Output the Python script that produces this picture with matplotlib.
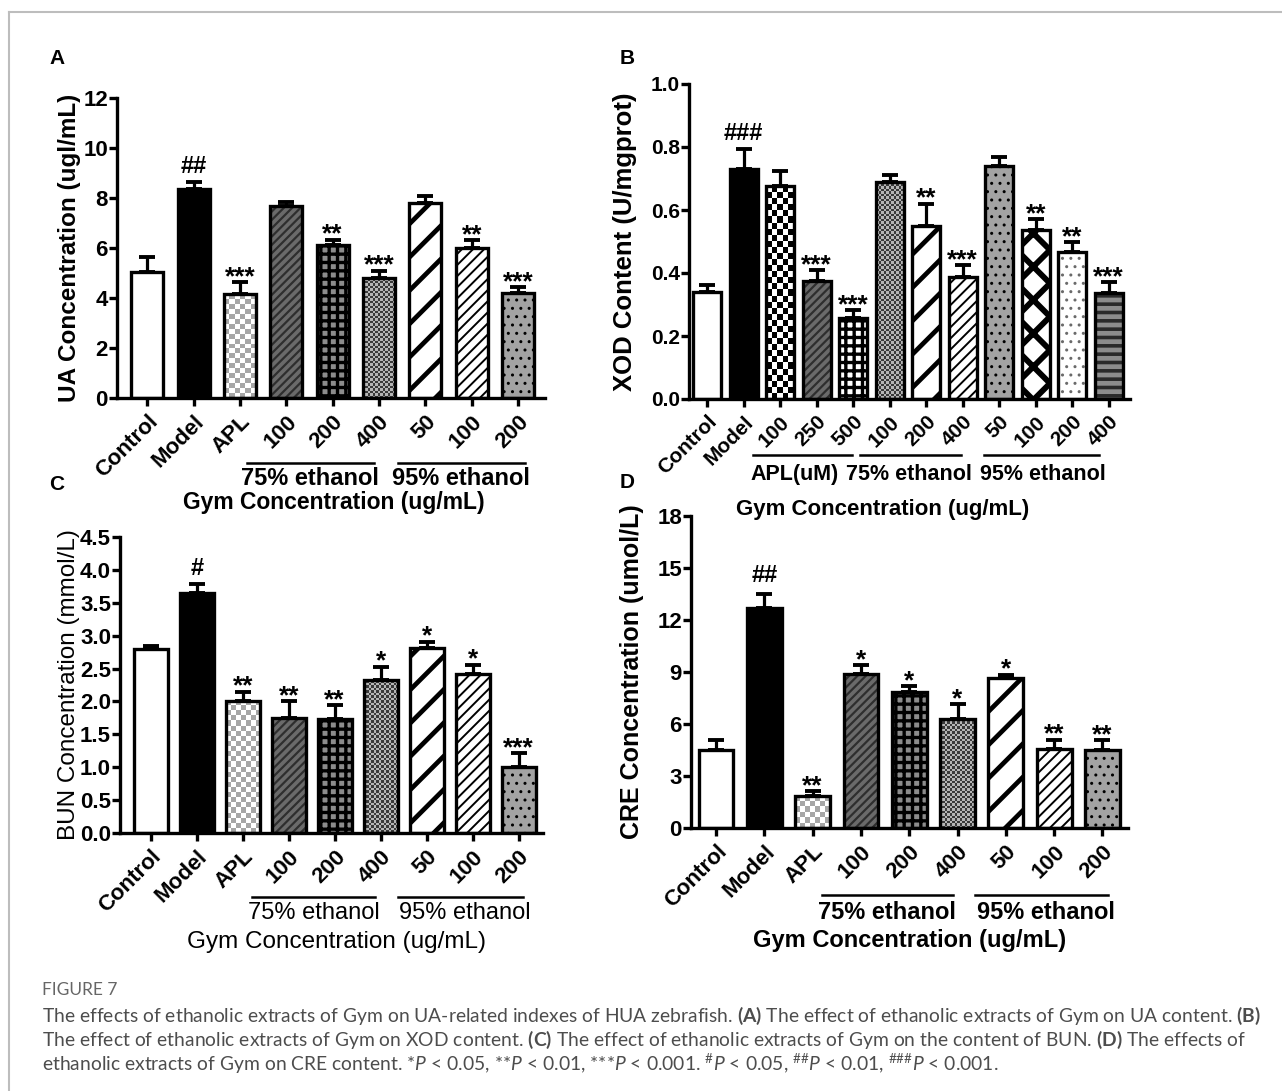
import numpy as np
import matplotlib
matplotlib.use("Agg")
import matplotlib.pyplot as plt
from matplotlib.lines import Line2D
from matplotlib.colors import ListedColormap

plt.rcParams['font.family'] = ['Liberation Sans', 'DejaVu Sans']
plt.rcParams['mathtext.fontset'] = 'custom'
plt.rcParams['mathtext.rm'] = 'Lato'
plt.rcParams['mathtext.it'] = 'Lato:italic'
plt.rcParams['mathtext.bf'] = 'Lato:bold'

# ---- data ----
labels_9 = ["Control", "Model", "APL", "100", "200", "400", "50", "100", "200"]
labels_b = ["Control", "Model", "100", "250", "500", "100", "200", "400", "50", "100", "200", "400"]

ua_mean = [5.05, 8.35, 4.15, 7.68, 6.12, 4.8, 7.8, 6.02, 4.2]
ua_err = [0.6, 0.3, 0.5, 0.15, 0.22, 0.3, 0.3, 0.3, 0.25]
ua_sig = ["", "##", "***", "", "**", "***", "", "**", "***"]

xod_mean = [0.34, 0.73, 0.675, 0.375, 0.258, 0.69, 0.548, 0.386, 0.74, 0.537, 0.466, 0.336]
xod_err = [0.022, 0.065, 0.05, 0.035, 0.025, 0.02, 0.072, 0.038, 0.028, 0.035, 0.033, 0.035]
xod_sig = ["", "###", "", "***", "***", "", "**", "***", "", "**", "**", "***"]

bun_mean = [2.79, 3.65, 2.01, 1.75, 1.74, 2.32, 2.81, 2.41, 1.0]
bun_err = [0.06, 0.13, 0.14, 0.25, 0.2, 0.21, 0.1, 0.15, 0.22]
bun_sig = ["", "#", "**", "**", "**", "*", "*", "*", "***"]

cre_mean = [4.5, 12.7, 1.85, 8.9, 7.85, 6.28, 8.63, 4.55, 4.5]
cre_err = [0.55, 0.8, 0.3, 0.48, 0.35, 0.87, 0.22, 0.55, 0.55]
cre_sig = ["", "##", "**", "*", "*", "*", "*", "**", "**"]

# ---- fill styles ----
PATTERNS = {
    "white": dict(face="white"),
    "black": dict(face="black"),
    "checker_light": dict(face="white", checker=("white", "#a6a6a6", 5)),
    "checker_bw": dict(face="white", checker=("white", "black", 6)),
    "checker_fine": dict(face="#999999", checker=("#b5b5b5", "#3a3a3a", 2.5)),
    "dash_dark": dict(face="#6a6a6a", hatch="////", hc="#2e2e2e", hlw=1.6),
    "grid_gray": dict(face="#8c8c8c", hatch="++", hc="black", hlw=2.4),
    "grid_white": dict(face="white", hatch="++", hc="black", hlw=2.4),
    "stripe_wide": dict(face="white", hatch="/", hc="black", hlw=3.4),
    "stripe_fine": dict(face="white", hatch="///", hc="black", hlw=1.4),
    "dots_gray": dict(face="#a3a3a3", hatch="..", hc="black", hlw=1.0),
    "dots_light": dict(face="white", hatch="..", hc="#6a6a6a", hlw=1.0),
    "xhatch": dict(face="white", hatch="x", hc="black", hlw=4.2),
    "hstripe": dict(face="#8c8c8c", hatch="--", hc="#2a2a2a", hlw=2.6),
}

styles_9 = ["white", "black", "checker_light", "dash_dark", "grid_gray",
            "checker_fine", "stripe_wide", "stripe_fine", "dots_gray"]
styles_b = ["white", "black", "checker_bw", "dash_dark", "grid_white",
            "checker_fine", "stripe_wide", "stripe_fine", "dots_gray",
            "xhatch", "dots_light", "hstripe"]

W, H = 1282, 1091
fig = plt.figure(figsize=(W / 100, H / 100), dpi=100)


def px_axes(left, top, right, bottom):
    ax = fig.add_axes([left / W, 1 - bottom / H, (right - left) / W, (bottom - top) / H])
    ax.patch.set_visible(False)
    return ax


def draw_panel(ax, labels, means, errs, sig, styles, width, xlim, ylim, yticks,
               ytick_fmt, tick_font, hash_off=6.5):
    x = np.arange(len(means))
    ax.set_xlim(*xlim)
    ax.set_ylim(*ylim)
    ax.errorbar(x, means, yerr=[np.zeros(len(errs)), errs], fmt="none", ecolor="black",
                elinewidth=2.3, capsize=6, capthick=2.8, zorder=1)
    for xi, m, st in zip(x, means, styles):
        spec = PATTERNS[st]
        hlw = spec.get("hlw", 1.0)
        with plt.rc_context({"hatch.linewidth": hlw}):
            fill = ax.bar(xi, m, width, color=spec["face"], edgecolor=spec.get("hc", spec["face"]),
                          linewidth=0, hatch=spec.get("hatch"), zorder=2)[0]
        if hasattr(fill, "set_hatch_linewidth"):
            fill.set_hatch_linewidth(hlw)
        if "checker" in spec:
            c1, c2, cpx = spec["checker"]
            (x0, y0), (x1, y1) = ax.transData.transform([[xi - width / 2, 0], [xi + width / 2, m]])
            nc = max(1, int(round((x1 - x0) / cpx)))
            nr = max(1, int(round((y1 - y0) / cpx)))
            grid = np.add.outer(np.arange(nr), np.arange(nc)) % 2
            ax.imshow(grid, cmap=ListedColormap([c1, c2]), extent=(xi - width / 2, xi + width / 2, 0, m),
                      origin="lower", interpolation="nearest", aspect="auto", zorder=2.5)
        ax.bar(xi, m, width, color="none", edgecolor="black", linewidth=2.4, zorder=3)
    for xi, m, e, s in zip(x, means, errs, sig):
        if not s:
            continue
        if "#" in s:
            ax.annotate(s, (xi, m + e), xytext=(0, hash_off), textcoords="offset points",
                        ha="center", va="baseline", fontsize=17, fontweight="bold")
        else:
            ax.annotate(s, (xi, m + e), xytext=(0, -1.5), textcoords="offset points",
                        ha="center", va="baseline", fontsize=19, fontweight="bold")
    ax.set_xlim(*xlim)
    ax.set_ylim(*ylim)
    ax.set_xticks(x)
    ax.set_xticklabels(labels, rotation=45, ha="right", rotation_mode="anchor", **tick_font)
    ax.set_yticks(yticks)
    ax.set_yticklabels([ytick_fmt.format(v) for v in yticks], **tick_font)
    for side in ["top", "right"]:
        ax.spines[side].set_visible(False)
    for side in ["left", "bottom"]:
        ax.spines[side].set_linewidth(2.4)
    ax.tick_params(axis="both", direction="out", length=5.5, width=2.4)
    ax.tick_params(axis="y", pad=1)
    ax.tick_params(axis="x", pad=4)


def group_labels(ax, lines, texts, y_line, y_text, y_gym, font, gym_font, gym_x):
    tr = ax.get_xaxis_transform()
    for x0, x1 in lines:
        ax.add_line(Line2D([x0, x1], [y_line, y_line], transform=tr, color="black",
                           lw=1.8, clip_on=False))
    for xc, s in texts:
        ax.text(xc, y_text, s, transform=tr, ha="center", va="center", **font)
    ax.text(gym_x, y_gym, "Gym Concentration (ug/mL)", transform=tr, ha="center",
            va="center", **gym_font)


bold16 = dict(fontsize=16, fontweight="bold")
bold15 = dict(fontsize=15, fontweight="bold")

# ---- A ----
axA = px_axes(117, 98, 545, 398)
draw_panel(axA, labels_9, ua_mean, ua_err, ua_sig, styles_9, 0.69, (-0.65, 8.58), (0, 12),
           [0, 2, 4, 6, 8, 10, 12], "{:g}", bold16)
axA.set_ylabel("UA Concentration (ugl/mL)", fontsize=17.5, fontweight="bold", va="center")
axA.yaxis.set_label_coords(-0.112, 0.5)
group_labels(axA, [(2.15, 4.9), (5.4, 8.15)], [(3.5, "75% ethanol"), (6.77, "95% ethanol")],
             -0.217, -0.267, -0.347, dict(fontsize=17, fontweight="bold"),
             dict(fontsize=16.5, fontweight="bold"), 4.03)

# ---- B ----
axB = px_axes(689, 84, 1130, 399)
draw_panel(axB, labels_b, xod_mean, xod_err, xod_sig, styles_b, 0.76, (-0.5, 11.58), (0, 1.0),
           [0, 0.2, 0.4, 0.6, 0.8, 1.0], "{:.1f}", bold15)
axB.set_ylabel("XOD Content (U/mgprot)", fontsize=18.5, fontweight="bold", va="center")
axB.yaxis.set_label_coords(-0.145, 0.5)
group_labels(axB, [(1.26, 3.97), (4.19, 6.96), (7.59, 10.74)],
             [(2.38, "APL(uM)"), (5.52, "75% ethanol"), (9.2, "95% ethanol")],
             -0.178, -0.241, -0.352, dict(fontsize=15.5, fontweight="bold"),
             dict(fontsize=16, fontweight="bold"), 4.81)

# ---- C ----
axC = px_axes(120, 537, 543, 833)
draw_panel(axC, labels_9, bun_mean, bun_err, bun_sig, styles_9, 0.74, (-0.67, 8.53), (0, 4.5),
           [0, 0.5, 1.0, 1.5, 2.0, 2.5, 3.0, 3.5, 4.0, 4.5], "{:.1f}", bold16)
axC.set_ylabel("BUN Concentration (mmol/L)", fontsize=17.5, va="center")
axC.yaxis.set_label_coords(-0.12, 0.5)
group_labels(axC, [(2.2, 4.87), (5.37, 8.09)], [(3.54, "75% ethanol"), (6.83, "95% ethanol")],
             -0.216, -0.270, -0.368, dict(fontsize=17), dict(fontsize=17.5), 4.04)

# ---- D ----
axD = px_axes(691, 516, 1128, 828)
draw_panel(axD, labels_9, cre_mean, cre_err, cre_sig, styles_9, 0.72, (-0.52, 8.53), (0, 18),
           [0, 3, 6, 9, 12, 15, 18], "{:g}", bold16, hash_off=9)
axD.set_ylabel("CRE Concentration (umol/L)", fontsize=18, fontweight="bold", va="center")
axD.yaxis.set_label_coords(-0.135, 0.5)
group_labels(axD, [(2.19, 4.9), (5.36, 8.12)], [(3.54, "75% ethanol"), (6.83, "95% ethanol")],
             -0.215, -0.272, -0.359, dict(fontsize=17, fontweight="bold"),
             dict(fontsize=17, fontweight="bold"), 4.0)

# panel letters
for s, (px, py) in zip("ABCD", [(57, 58), (627, 58), (57, 485), (627, 483)]):
    fig.text(px / W, 1 - py / H, s, fontsize=15, fontweight="bold", ha="center", va="center")

# frame
fig.add_artist(Line2D([9 / W, 1], [1 - 12 / H, 1 - 12 / H], transform=fig.transFigure,
                      color="#bdbdbd", lw=1.5))
fig.add_artist(Line2D([9 / W, 9 / W], [0, 1 - 12 / H], transform=fig.transFigure,
                      color="#bdbdbd", lw=1.5))

# caption
cap = dict(fontsize=13.9, family="Lato", color="#4d4d4d", ha="left", va="center")
fig.text(42 / W, 1 - 990 / H, "FIGURE 7", fontsize=12.5, family="Lato", color="#666666",
         ha="left", va="center")
cap_lines = [
    r"The effects of ethanolic extracts of Gym on UA-related indexes of HUA zebrafish. $\mathbf{(A)}$ The effect of ethanolic extracts of Gym on UA content. $\mathbf{(B)}$",
    r"The effect of ethanolic extracts of Gym on XOD content. $\mathbf{(C)}$ The effect of ethanolic extracts of Gym on the content of BUN. $\mathbf{(D)}$ The effects of",
    r"ethanolic extracts of Gym on CRE content. *$\mathit{P}$ < 0.05, **$\mathit{P}$ < 0.01, ***$\mathit{P}$ < 0.001. ${}^{\#}\mathit{P}$ < 0.05, ${}^{\#\#}\mathit{P}$ < 0.01, ${}^{\#\#\#}\mathit{P}$ < 0.001.",
]
for i, line in enumerate(cap_lines):
    fig.text(42 / W, 1 - (1016 + 24 * i) / H, line, **cap)

fig.savefig("out.png", dpi=100)
